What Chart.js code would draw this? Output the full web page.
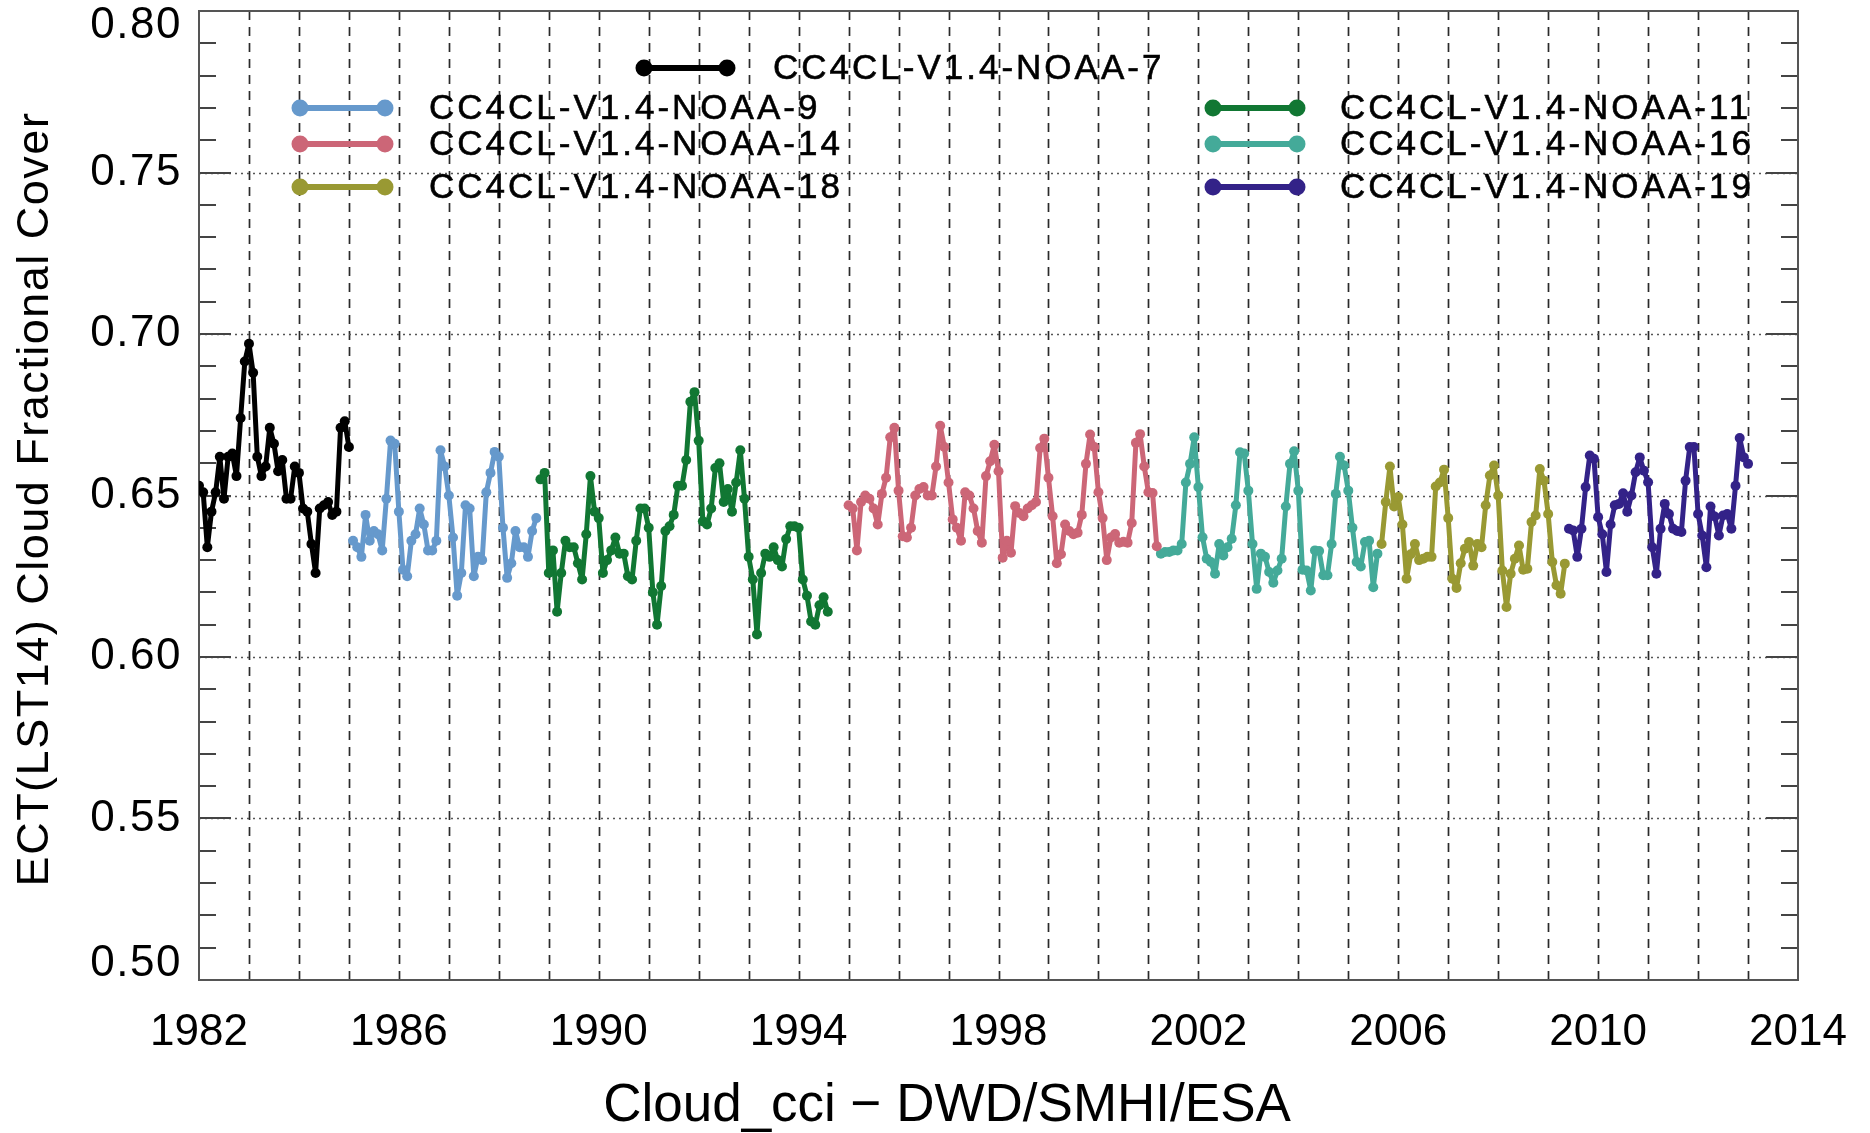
<!DOCTYPE html>
<html>
<head>
<meta charset="utf-8">
<title>ECT(LST14) Cloud Fractional Cover</title>
<script src="https://cdn.jsdelivr.net/npm/chart.js@4.4.1/dist/chart.umd.min.js"></script>
<style>
  html, body { margin: 0; padding: 0; background: #fff; }
  #wrap { width: 1870px; height: 1133px; }
</style>
</head>
<body>
<div id="wrap"><canvas id="cfc" width="1870" height="1133"></canvas></div>
<script>
// one series per satellite, monthly means, first month given in seriesStart
var seriesNames = ['CC4CL-V1.4-NOAA-7', 'CC4CL-V1.4-NOAA-9', 'CC4CL-V1.4-NOAA-11', 'CC4CL-V1.4-NOAA-14',
                   'CC4CL-V1.4-NOAA-16', 'CC4CL-V1.4-NOAA-18', 'CC4CL-V1.4-NOAA-19'];
var seriesColors = ['#000000', '#6699cc', '#117733', '#cc6677', '#44aa99', '#999933', '#332288'];
var seriesStart = ['1982-01', '1985-02', '1988-11', '1995-01', '2001-04', '2005-09', '2009-06'];

var noaa7 = [0.653, 0.651, 0.634, 0.645, 0.651, 0.662, 0.649, 0.662, 0.663, 0.656, 0.674, 0.6915,
             0.697, 0.688, 0.662, 0.656, 0.659, 0.671, 0.666, 0.6575, 0.661, 0.649, 0.649, 0.659,
             0.657, 0.646, 0.645, 0.635, 0.626, 0.646, 0.647, 0.648, 0.644, 0.645, 0.671, 0.673, 0.665];
var noaa9 = [0.636, 0.634, 0.631, 0.644, 0.636, 0.639, 0.638, 0.633, 0.649, 0.667, 0.666,
             0.645, 0.627, 0.625, 0.636, 0.638, 0.646, 0.641, 0.633, 0.633, 0.636, 0.664,
             0.659, 0.650, 0.637, 0.619, 0.626, 0.647, 0.646, 0.625, 0.631, 0.630, 0.651,
             0.657, 0.6635, 0.662, 0.640, 0.6245, 0.629, 0.639, 0.634, 0.634, 0.631, 0.639, 0.643];
var noaa11 = [0.655, 0.657, 0.626, 0.633, 0.614, 0.626, 0.636, 0.634, 0.634, 0.629,
              0.624, 0.638, 0.656, 0.645, 0.643, 0.626, 0.630, 0.633, 0.637, 0.632,
              0.632, 0.625, 0.624, 0.636, 0.646, 0.646, 0.640, 0.620, 0.610, 0.622,
              0.639, 0.6405, 0.644, 0.653, 0.653, 0.661, 0.679, 0.682, 0.667, 0.642,
              0.641, 0.646, 0.6585, 0.660, 0.648, 0.652, 0.645, 0.654, 0.664, 0.649,
              0.631, 0.624, 0.607, 0.626, 0.632, 0.631, 0.634, 0.630, 0.628, 0.6365,
              0.6405, 0.6405, 0.640, 0.624, 0.619, 0.611, 0.610, 0.616, 0.6185, 0.614];
var noaa14 = [0.647, 0.646, 0.633, 0.648, 0.650, 0.649, 0.646, 0.641, 0.6505, 0.6555, 0.668, 0.671,
              0.6515, 0.6374, 0.637, 0.640, 0.650, 0.652, 0.6526, 0.650, 0.650, 0.659, 0.6716, 0.665,
              0.654, 0.6426, 0.640, 0.636, 0.651, 0.650, 0.646, 0.639, 0.6354, 0.656, 0.6606, 0.6657,
              0.6575, 0.6307, 0.636, 0.6323, 0.6467, 0.6446, 0.6436, 0.646, 0.647, 0.648, 0.6647, 0.6676,
              0.6555, 0.6436, 0.629, 0.6318, 0.641, 0.639, 0.638, 0.6385, 0.644, 0.6598, 0.6689, 0.665,
              0.651, 0.643, 0.630, 0.637, 0.6381, 0.6354, 0.6357, 0.6354, 0.6415, 0.6663, 0.669, 0.659,
              0.651, 0.6508, 0.6343];
var noaa16 = [0.632, 0.6325, 0.6325, 0.633, 0.633, 0.635, 0.654, 0.6598, 0.668, 0.6526, 0.6371,
              0.6304, 0.6294, 0.6258, 0.635, 0.6314, 0.634, 0.6366, 0.647, 0.6634, 0.663, 0.6515,
              0.635, 0.6211, 0.632, 0.631, 0.6263, 0.623, 0.6268, 0.6304, 0.6466, 0.6598, 0.6637,
              0.6515, 0.627, 0.6268, 0.6206, 0.633, 0.6328, 0.6253, 0.6253, 0.635, 0.6505, 0.662,
              0.6593, 0.6515, 0.640, 0.6294, 0.628, 0.6356, 0.636, 0.6216, 0.632];
var noaa18 = [0.635, 0.648, 0.659, 0.6466, 0.6495, 0.641, 0.6242, 0.6318, 0.635, 0.630, 0.6304,
              0.631, 0.631, 0.6528, 0.654, 0.658, 0.643, 0.6242, 0.6214, 0.629, 0.6335, 0.6356,
              0.6283, 0.635, 0.634, 0.647, 0.6562, 0.6593, 0.650, 0.6268, 0.6155, 0.6258, 0.6304,
              0.6345, 0.627, 0.6273, 0.6418, 0.6438, 0.6582, 0.6546, 0.6443, 0.6294, 0.6222, 0.6196, 0.6289];
var noaa19 = [0.6397, 0.6392, 0.631, 0.6397, 0.6526, 0.6624, 0.6614, 0.6433, 0.638, 0.6263, 0.641,
              0.647, 0.6474, 0.6507, 0.645, 0.650, 0.6572, 0.6618, 0.6577, 0.6541, 0.634, 0.6258,
              0.6397, 0.6474, 0.6443, 0.6397, 0.639, 0.6387, 0.6546, 0.665, 0.665, 0.6443, 0.6376,
              0.6278, 0.6466, 0.6435, 0.6376, 0.6438, 0.6443, 0.6397, 0.653, 0.6678, 0.6618, 0.6598];

var seriesValues = [noaa7, noaa9, noaa11, noaa14, noaa16, noaa18, noaa19];
var yearTicks = [1982, 1986, 1990, 1994, 1998, 2002, 2006, 2010, 2014];
var yTickLabels = ['0.50', '0.55', '0.60', '0.65', '0.70', '0.75', '0.80'];
var xTitle = 'Cloud_cci \u2212 DWD/SMHI/ESA';
var yTitle = 'ECT(LST14) Cloud Fractional Cover';

var FONT = '"Liberation Sans", Arial, sans-serif';

function toPoints(start, values) {
  var p = start.split('-');
  var t0 = +p[0] + (p[1] - 1) / 12;
  return values.map(function (v, k) { return { x: t0 + k / 12, y: v }; });
}

var datasets = seriesNames.map(function (name, i) {
  return {
    label: name,
    data: toPoints(seriesStart[i], seriesValues[i]),
    borderColor: seriesColors[i],
    backgroundColor: seriesColors[i],
    borderWidth: 5,
    borderJoinStyle: 'round',
    borderCapStyle: 'round',
    pointRadius: 5,
    pointHoverRadius: 5,
    pointBorderWidth: 0,
    tension: 0
  };
});

// IDL style frame: dashed yearly lines, dotted 0.05 lines, inward ticks, clamped y labels, titles
var framePlugin = {
  id: 'frame',
  beforeDatasetsDraw: function (chart) {
    var ctx = chart.ctx, a = chart.chartArea, x = chart.scales.x, y = chart.scales.y;
    ctx.save();
    ctx.strokeStyle = '#2a2a2a';
    ctx.lineWidth = 1.7;
    ctx.setLineDash([9, 7]);
    for (var yr = 1983; yr < 2014; yr++) {
      var px = Math.round(x.getPixelForValue(yr)) + 0.5;
      ctx.beginPath(); ctx.moveTo(px, a.bottom); ctx.lineTo(px, a.top); ctx.stroke();
    }
    ctx.strokeStyle = '#555';
    ctx.lineWidth = 1.5;
    ctx.setLineDash([2, 4]);
    for (var k = 55; k <= 75; k += 5) {
      var py = Math.round(y.getPixelForValue(k / 100)) + 0.5;
      ctx.beginPath(); ctx.moveTo(a.left, py); ctx.lineTo(a.right, py); ctx.stroke();
    }
    ctx.setLineDash([]);
    ctx.strokeStyle = '#444';
    ctx.lineWidth = 2;
    for (k = 51; k < 80; k++) {
      var len = k % 5 === 0 ? 32 : 17;
      var ty = Math.round(y.getPixelForValue(k / 100));
      ctx.beginPath();
      ctx.moveTo(a.left, ty); ctx.lineTo(a.left + len, ty);
      ctx.moveTo(a.right, ty); ctx.lineTo(a.right - len, ty);
      ctx.stroke();
    }
    ctx.strokeStyle = '#555';
    ctx.lineWidth = 2;
    ctx.strokeRect(a.left, a.top, a.right - a.left, a.bottom - a.top);

    ctx.fillStyle = '#000';
    ctx.font = '44px ' + FONT;
    ctx.letterSpacing = '1.5px';
    ctx.textAlign = 'right';
    ctx.textBaseline = 'middle';
    yTickLabels.forEach(function (t) {
      var ly = y.getPixelForValue(+t);
      ly = Math.min(Math.max(ly, a.top + 15), a.bottom - 16);
      ctx.fillText(t, a.left - 17, ly);
    });

    // axis titles
    ctx.textAlign = 'center';
    ctx.font = '53px ' + FONT;
    ctx.letterSpacing = '0px';
    ctx.fillText(xTitle, 947, 1106);
    ctx.save();
    ctx.translate(36, 499);
    ctx.rotate(-Math.PI / 2);
    ctx.font = '45px ' + FONT;
    ctx.letterSpacing = '1.5px';
    ctx.fillText(yTitle, 0, 0);
    ctx.restore();
    ctx.restore();
  },
  afterDatasetsDraw: function (chart) {
    var ctx = chart.ctx;
    var slots = [
      { x1: 644, x2: 727, tx: 773, y: 68 },
      { x1: 300, x2: 385, tx: 429, y: 108 },
      { x1: 1213, x2: 1297, tx: 1340, y: 108 },
      { x1: 300, x2: 385, tx: 429, y: 144 },
      { x1: 1213, x2: 1297, tx: 1340, y: 144 },
      { x1: 300, x2: 385, tx: 429, y: 187 },
      { x1: 1213, x2: 1297, tx: 1340, y: 187 }
    ];
    ctx.save();
    chart.data.datasets.forEach(function (ds, i) {
      var s = slots[i];
      ctx.strokeStyle = ds.borderColor;
      ctx.fillStyle = ds.borderColor;
      ctx.lineWidth = 6;
      ctx.beginPath(); ctx.moveTo(s.x1, s.y); ctx.lineTo(s.x2, s.y); ctx.stroke();
      [s.x1, s.x2].forEach(function (cx) {
        ctx.beginPath(); ctx.arc(cx, s.y, 8.5, 0, Math.PI * 2); ctx.fill();
      });
      ctx.fillStyle = '#000';
      ctx.strokeStyle = '#000';
      ctx.lineWidth = 0.6;
      ctx.font = '35px ' + FONT;
      ctx.letterSpacing = '3px';
      ctx.textAlign = 'left';
      ctx.textBaseline = 'middle';
      ctx.fillText(ds.label, s.tx, s.y + 1);
      ctx.strokeText(ds.label, s.tx, s.y + 1);
    });
    ctx.restore();
  }
};

Chart.defaults.font.family = FONT;
Chart.defaults.color = '#000';

new Chart(document.getElementById('cfc'), {
  type: 'line',
  data: { datasets: datasets },
  plugins: [framePlugin],
  options: {
    responsive: false,
    devicePixelRatio: 1,
    animation: false,
    layout: { padding: { top: 11, right: 72, bottom: 80, left: 0 } },
    plugins: {
      legend: { display: false },
      tooltip: { enabled: false },
      title: { display: false }
    },
    scales: {
      x: {
        type: 'linear',
        min: 1982,
        max: 2014,
        afterBuildTicks: function (scale) {
          scale.ticks = yearTicks.map(function (v) { return { value: v }; });
        },
        ticks: {
          padding: 18,
          maxRotation: 0,
          font: { size: 44 },
          callback: function (v) { return String(v); }
        },
        grid: { display: false },
        border: { display: false },
        afterFit: function (scale) { scale.height = 73; }
      },
      y: {
        min: 0.5,
        max: 0.8,
        ticks: { display: false },
        grid: { display: false },
        border: { display: false },
        afterFit: function (scale) { scale.width = 199; }
      }
    }
  }
});
</script>
</body>
</html>
